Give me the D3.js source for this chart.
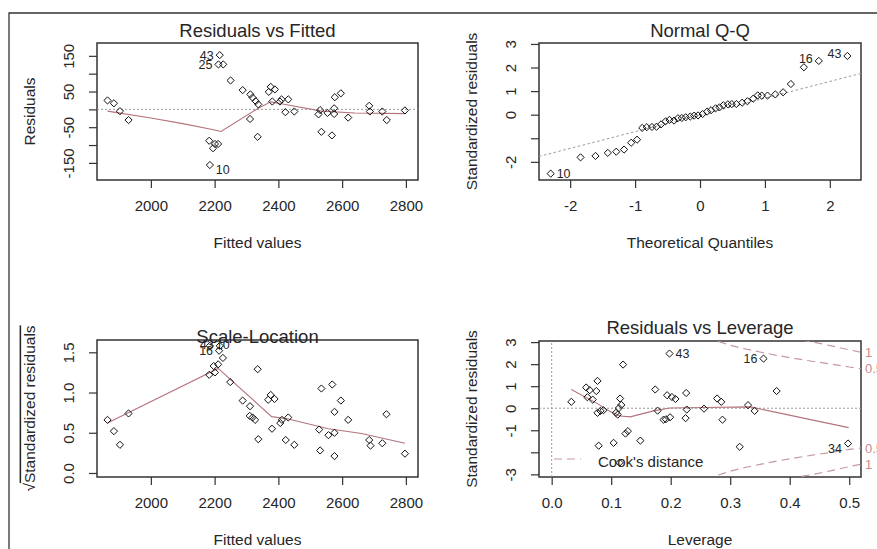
<!DOCTYPE html>
<html><head><meta charset="utf-8">
<script src="https://cdn.jsdelivr.net/npm/d3@7/dist/d3.min.js"></script>
<style>
body{margin:0;background:#fff}
svg{display:block;font-family:"Liberation Sans",Arial,sans-serif}
</style>
</head><body>
<svg id="c" width="877" height="549"></svg>
<script>
// ---------------- DATA ----------------
// Residuals vs Fitted
const rvfFitted = [1864,1884,1903,1930,2216,2212,2227,2250,2183,2201,2211,2195,2185,2288,2312,2319,2329,2311,2335,2337,2370,2376,2389,2381,2405,2410,2431,2422,2450,2531,2526,2535,2554,2575,2575,2577,2596,2568,2619,2685,2687,2726,2740,2797];
const rvfResid  = [25,17,-5,-30,152,126,126,81,-88,-97,-97,-109,-156,54,42,33,23,-27,-77,14,49,63,56,22,22,28,28,-8,-6,-2,-14,-63,-10,3,-13,34,45,-73,-23,10,-6,-6,-30,-3];
const rvfSmoothX = [1864,2000,2100,2185,2220,2337,2376,2431,2535,2640,2797];
const rvfSmoothY = [-5,-24,-40,-55,-62,3,21,12,-5,-10,-12];
const rvfLabelText = ["43","25","10"];
const rvfLabelIdx  = [4,5,12];
const rvfXTicks = [2000,2200,2400,2600,2800];
const rvfXTickLabels = ["2000","2200","2400","2600","2800"];
const rvfYTicks = [-150,-100,-50,0,50,100,150];
const rvfYTickLabels = ["-150","","-50","","50","","150"];

// Normal Q-Q
const qqTheo = [-2.30,-1.84,-1.61,-1.42,-1.29,-1.17,-1.06,-0.97,-0.89,-0.82,-0.74,-0.67,-0.60,-0.53,-0.47,-0.40,-0.34,-0.28,-0.22,-0.15,-0.09,-0.03,0.04,0.11,0.17,0.24,0.30,0.36,0.43,0.49,0.56,0.65,0.73,0.82,0.89,0.95,1.04,1.16,1.28,1.40,1.60,1.83,2.27];
const qqStd  = [-2.50,-1.81,-1.75,-1.62,-1.57,-1.48,-1.19,-1.06,-0.56,-0.53,-0.52,-0.51,-0.41,-0.28,-0.22,-0.25,-0.15,-0.14,-0.11,-0.08,-0.04,-0.03,0.03,0.13,0.19,0.27,0.31,0.40,0.44,0.45,0.45,0.51,0.57,0.68,0.82,0.81,0.81,0.86,0.95,1.30,2.01,2.28,2.49];
const qqLineX = [-2.48,2.48];
const qqLineY = [-1.77,1.75];
const qqLabelText = ["10","16","43"];
const qqLabelIdx  = [0,41,42];
const qqXTicks = [-2,-1,0,1,2];
const qqXTickLabels = ["-2","-1","0","1","2"];
const qqYTicks = [-2,-1,0,1,2,3];
const qqYTickLabels = ["-2","","0","1","2","3"];

// Scale-Location
const slFitted = [1864,1884,1903,1930,2183,2197,2201,2211,2214,2185,2216,2226,2249,2288,2311,2310,2319,2327,2335,2337,2368,2376,2388,2380,2406,2411,2431,2423,2450,2528,2531,2535,2557,2569,2576,2576,2576,2596,2619,2685,2689,2726,2739,2797];
const slSqrt   = [0.66,0.52,0.35,0.74,1.22,1.33,1.25,1.35,1.52,1.58,1.58,1.43,1.13,0.90,0.83,0.71,0.69,0.66,1.29,0.42,0.91,0.97,0.92,0.55,0.62,0.66,0.69,0.41,0.35,0.54,0.28,1.05,0.47,1.10,0.76,0.50,0.21,0.90,0.66,0.41,0.34,0.37,0.73,0.24];
const slSmoothX = [1864,2211,2379,2431,2557,2661,2797];
const slSmoothY = [0.62,1.30,0.70,0.67,0.55,0.49,0.37];
const slLabelText = ["16","43","10"];
const slLabelIdx  = [8,10,9];
const slYTicks = [0,0.5,1,1.5];
const slYTickLabels = ["0.0","0.5","1.0","1.5"];

// Residuals vs Leverage
const lvLev = [0.033,0.058,0.064,0.060,0.069,0.077,0.075,0.077,0.082,0.087,0.079,0.104,0.120,0.115,0.117,0.113,0.108,0.111,0.124,0.128,0.149,0.114,0.174,0.178,0.188,0.192,0.199,0.194,0.202,0.208,0.198,0.226,0.227,0.225,0.256,0.278,0.285,0.287,0.316,0.330,0.341,0.356,0.378,0.498];
const lvStd = [0.29,0.94,0.82,0.50,0.39,1.24,0.78,-0.21,-0.12,-0.09,-1.70,-1.57,1.98,0.44,0.15,0.01,-0.21,-0.29,-1.15,-1.04,-1.47,-2.47,0.85,-0.11,-0.52,-0.50,-0.41,0.59,0.51,0.42,2.48,0.69,-0.06,-0.45,-0.02,0.44,0.29,-0.52,-1.75,0.14,-0.12,2.25,0.78,-1.60];
const lvSmoothX = [0.033,0.077,0.096,0.115,0.132,0.171,0.199,0.255,0.334,0.499];
const lvSmoothY = [0.85,0.21,-0.12,-0.35,-0.39,-0.12,0.01,0.03,0.06,-0.88];
const lvLabelText = ["43","16","34"];
const lvLabelIdx  = [30,41,43];
const cook05H = [0.28,0.30,0.32,0.35,0.38,0.41,0.44,0.47,0.50,0.52];
const cook05V = [3.03,2.86,2.72,2.55,2.39,2.25,2.12,2.00,1.87,1.80];
const cook1H  = [0.42,0.44,0.47,0.50,0.52];
const cook1V  = [3.09,3.00,2.83,2.65,2.54];
const cookLevelLabels = ["0.5","1"];
const lvXTicks = [0,0.1,0.2,0.3,0.4,0.5];
const lvXTickLabels = ["0.0","0.1","0.2","0.3","0.4","0.5"];
const lvYTicks = [-3,-2,-1,0,1,2,3];
const lvYTickLabels = ["-3","","-1","0","1","2","3"];

// ---------------- DRAW ----------------
const svg = d3.select("#c");
svg.append("rect").attr("width",877).attr("height",549).attr("fill","#fff");
const TXT = "#262626", SMOOTH = "#b4737c", COOK = "#c49a9e", DOT = "#9a9a9a";

// outer frame (top and left edges)
svg.append("path").attr("d","M9,549 V13 H877").attr("fill","none").attr("stroke","#333").attr("stroke-width",1.3);

let clipN = 0;
function panel(c){
  const x = d3.scaleLinear().domain(c.xDomain).range([c.box[0], c.box[1]]);
  const y = d3.scaleLinear().domain(c.yDomain).range([c.box[3], c.box[2]]);
  const g = svg.append("g");
  const id = "clip"+(clipN++);
  svg.append("clipPath").attr("id",id).append("rect")
    .attr("x",c.box[0]).attr("y",c.box[2]).attr("width",c.box[1]-c.box[0]).attr("height",c.box[3]-c.box[2]);
  // axes
  const ax = g.append("g").attr("transform",`translate(0,${c.box[3]})`)
    .call(d3.axisBottom(x).tickValues(c.xTicks).tickFormat((d,i)=>c.xTickLabels[i]).tickSize(8).tickSizeOuter(0));
  ax.select(".domain").remove();
  ax.selectAll("line").attr("stroke","#333").attr("stroke-width",1.2);
  ax.selectAll("text").attr("y",26).attr("dy","0.36em").attr("fill",TXT).attr("font-size",15).attr("font-family","Liberation Sans, Arial, sans-serif");
  const ay = g.append("g").attr("transform",`translate(${c.box[0]},0)`)
    .call(d3.axisLeft(y).tickValues(c.yTicks).tickFormat((d,i)=>c.yTickLabels[i]).tickSize(8).tickSizeOuter(0));
  ay.select(".domain").remove();
  ay.selectAll("line").attr("stroke","#333").attr("stroke-width",1.2);
  ay.selectAll("text").attr("x",0).attr("y",0).attr("dy","0.36em")
    .attr("transform","translate(-28,0) rotate(-90)").attr("text-anchor","middle")
    .attr("fill",TXT).attr("font-size",15).attr("font-family","Liberation Sans, Arial, sans-serif");
  // box
  g.append("rect").attr("x",c.box[0]).attr("y",c.box[2]).attr("width",c.box[1]-c.box[0]).attr("height",c.box[3]-c.box[2])
    .attr("fill","none").attr("stroke","#333").attr("stroke-width",1.5);
  // title
  g.append("text").attr("x",(c.box[0]+c.box[1])/2).attr("y",c.titleY).attr("text-anchor","middle")
    .attr("font-size",18.5).attr("fill",TXT).text(c.title);
  // axis labels
  g.append("text").attr("x",(c.box[0]+c.box[1])/2).attr("y",c.box[3]+62).attr("dy","0.36em").attr("text-anchor","middle")
    .attr("font-size",15.5).attr("fill",TXT).text(c.xLabel);
  const yl = g.append("text").attr("transform",`translate(${c.box[0]-68},${(c.box[2]+c.box[3])/2}) rotate(-90)`)
    .attr("dy","0.36em").attr("text-anchor","middle").attr("font-size",15.5).attr("fill",TXT);
  if (c.sqrtLabel){
    yl.append("tspan").text("\u221A");
    yl.append("tspan").attr("text-decoration","overline").text(c.yLabel);
  } else yl.text(c.yLabel);
  const inner = g.append("g").attr("clip-path",`url(#${id})`);
  return {x,y,g,inner};
}

function diamonds(p, xs, ys){
  p.g.append("g").selectAll("path").data(xs).join("path")
    .attr("transform",(d,i)=>`translate(${p.x(d)},${p.y(ys[i])})`)
    .attr("d","M0,-3.6L3.6,0L0,3.6L-3.6,0Z")
    .attr("fill","none").attr("stroke","#111").attr("stroke-width",1);
}
function line(p, xs, ys, color, dash, width){
  const pts = xs.map((d,i)=>[p.x(d), p.y(ys[i])]);
  p.inner.append("path").attr("d", d3.line()(pts)).attr("fill","none")
    .attr("stroke",color).attr("stroke-width",width||1.1).attr("stroke-dasharray",dash||null);
}
function labels(p, xs, ys, texts, idx, sides, dys){
  texts.forEach((t,k)=>{
    const i = idx[k], side = sides[k];
    p.g.append("text").attr("x", p.x(xs[i]) + (side>0?6:-6)).attr("y", p.y(ys[i]) + (dys?dys[k]:0))
      .attr("dy","0.36em").attr("text-anchor", side>0?"start":"end")
      .attr("font-size",12.5).attr("fill",TXT).text(t);
  });
}

// Panel 1: Residuals vs Fitted
const p1 = panel({box:[97,418,43,180], xDomain:[1831,2838], yDomain:[-198,186],
  xTicks:rvfXTicks, xTickLabels:rvfXTickLabels, yTicks:rvfYTicks, yTickLabels:rvfYTickLabels,
  title:"Residuals vs Fitted", titleY:36.5, xLabel:"Fitted values", yLabel:"Residuals"});
line(p1, [1831,2838], [0,0], DOT, "2,2", 1);
line(p1, rvfSmoothX, rvfSmoothY, SMOOTH);
diamonds(p1, rvfFitted, rvfResid);
labels(p1, rvfFitted, rvfResid, rvfLabelText, rvfLabelIdx, [-1,-1,1], [0,0,4]);

// Panel 2: Normal Q-Q
const p2 = panel({box:[539,861,43,180], xDomain:[-2.48,2.48], yDomain:[-2.77,3.04],
  xTicks:qqXTicks, xTickLabels:qqXTickLabels, yTicks:qqYTicks, yTickLabels:qqYTickLabels,
  title:"Normal Q-Q", titleY:36.5, xLabel:"Theoretical Quantiles", yLabel:"Standardized residuals"});
line(p2, qqLineX, qqLineY, DOT, "2.5,2.5", 1);
diamonds(p2, qqTheo, qqStd);
labels(p2, qqTheo, qqStd, qqLabelText, qqLabelIdx, [1,-1,-1], [0,-2,-2]);

// Panel 3: Scale-Location
const p3 = panel({box:[97,418,340,477], xDomain:[1831,2838], yDomain:[-0.05,1.653],
  xTicks:rvfXTicks, xTickLabels:rvfXTickLabels, yTicks:slYTicks, yTickLabels:slYTickLabels,
  title:"Scale-Location", titleY:343, xLabel:"Fitted values", yLabel:"Standardized residuals", sqrtLabel:true});
line(p3, slSmoothX, slSmoothY, SMOOTH);
diamonds(p3, slFitted, slSqrt);
labels(p3, slFitted, slSqrt, slLabelText, slLabelIdx, [-1,-1,1], [0,-1,-1]);

// Panel 4: Residuals vs Leverage
const p4 = panel({box:[539,861,341,477], xDomain:[-0.0213,0.5198], yDomain:[-3.12,3.05],
  xTicks:lvXTicks, xTickLabels:lvXTickLabels, yTicks:lvYTicks, yTickLabels:lvYTickLabels,
  title:"Residuals vs Leverage", titleY:334, xLabel:"Leverage", yLabel:"Standardized residuals"});
line(p4, [-0.0213,0.5198], [0,0], DOT, "2,2", 1);
line(p4, [0,0], [-3.12,3.05], DOT, "2,2", 1);
line(p4, cook05H, cook05V, COOK, "8,5", 1.2);
line(p4, cook05H, cook05V.map(v=>-v), COOK, "8,5", 1.2);
line(p4, cook1H, cook1V, COOK, "8,5", 1.2);
line(p4, cook1H, cook1V.map(v=>-v), COOK, "8,5", 1.2);
line(p4, lvSmoothX, lvSmoothY, SMOOTH);
// legend
p4.g.append("line").attr("x1",554).attr("x2",581).attr("y1",459).attr("y2",459)
  .attr("stroke",COOK).attr("stroke-width",1.2).attr("stroke-dasharray","8,5");
p4.g.append("text").attr("x",598).attr("y",462).attr("dy","0.36em").attr("font-size",15).attr("fill",TXT).text("Cook's distance");
diamonds(p4, lvLev, lvStd);
labels(p4, lvLev, lvStd, lvLabelText, lvLabelIdx, [1,-1,-1], [0,0,5]);
// cook level labels at right margin
[[cook05V, cookLevelLabels[0]],[cook1V, cookLevelLabels[1]]].forEach(([v,t])=>{
  const last = v[v.length-1];
  [last,-last].forEach(s=>{
    p4.g.append("text").attr("x",865).attr("y",p4.y(s)).attr("dy","0.36em")
      .attr("font-size",13).attr("fill","#c98a90").text(t);
  });
});
</script>
</body></html>
